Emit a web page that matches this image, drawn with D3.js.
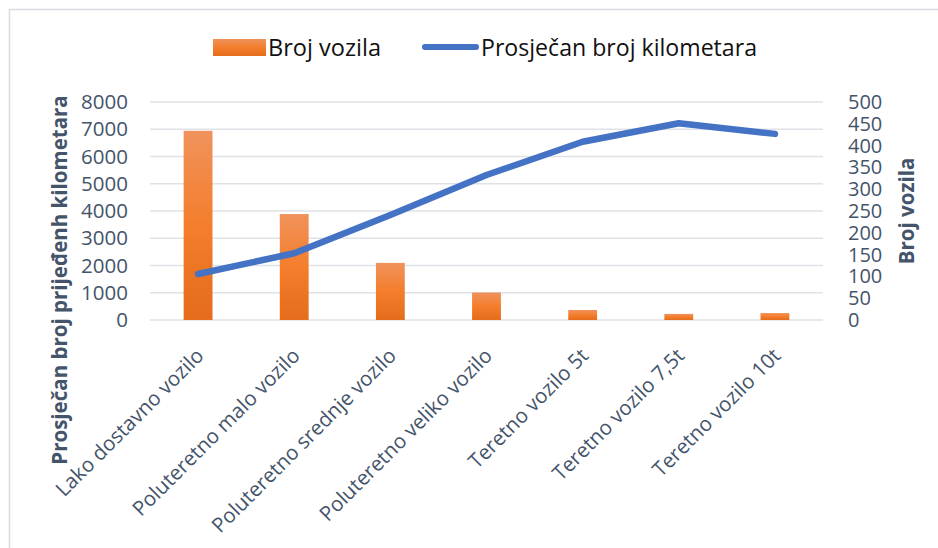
<!DOCTYPE html>
<html>
<head>
<meta charset="utf-8">
<script src="https://cdn.jsdelivr.net/npm/d3@7"></script>
<style>
  body { margin: 0; background: #fff; }
  text { font-family: "Open Sans", sans-serif; }
</style>
</head>
<body>
<div id="chart"></div>
<script>
// categories and values
var categories = ["Lako dostavno vozilo", "Poluteretno malo vozilo", "Poluteretno srednje vozilo",
    "Poluteretno veliko vozilo", "Teretno vozilo 5t", "Teretno vozilo 7,5t", "Teretno vozilo 10t"];
var brojVozila = [434, 243, 131, 63, 23, 14, 16];
var prosjecniKm = [1690, 2450, 3850, 5320, 6540, 7220, 6830];
var leftTicks = [0, 1000, 2000, 3000, 4000, 5000, 6000, 7000, 8000];
var rightTicks = [0, 50, 100, 150, 200, 250, 300, 350, 400, 450, 500];

var svgWidth = 938, svgHeight = 548;
var margin = { left: 150, top: 102, right: 115, bottom: 228 };
var chartWidth = svgWidth - margin.left - margin.right;
var chartHeight = svgHeight - margin.top - margin.bottom;

var textColor = "#44546a";

var svg = d3.select("#chart").append("svg")
    .attr("width", svgWidth)
    .attr("height", svgHeight);

// chart border
svg.append("rect")
    .attr("x", 9.5).attr("y", 9.5)
    .attr("width", 940).attr("height", 560)
    .attr("fill", "none")
    .attr("stroke", "#d9dce1")
    .attr("stroke-width", 1.5);

// bar gradient
var grad = svg.append("defs").append("linearGradient")
    .attr("id", "barGrad").attr("x1", 0).attr("y1", 0).attr("x2", 0).attr("y2", 1);
grad.append("stop").attr("offset", "0%").attr("stop-color", "#f0925c");
grad.append("stop").attr("offset", "50%").attr("stop-color", "#f47e2c");
grad.append("stop").attr("offset", "100%").attr("stop-color", "#e46c1b");

var chartGroup = svg.append("g")
    .attr("transform", `translate(${margin.left}, ${margin.top})`);

var xScale = d3.scaleBand()
    .domain(categories)
    .range([0, chartWidth])
    .padding(0);

var kmScale = d3.scaleLinear().domain([0, 8000]).range([chartHeight, 0]);
var countScale = d3.scaleLinear().domain([0, 500]).range([chartHeight, 0]);

// gridlines
chartGroup.append("g")
    .selectAll("line")
    .data(leftTicks)
    .enter()
    .append("line")
    .attr("x1", 0).attr("x2", chartWidth)
    .attr("y1", d => kmScale(d)).attr("y2", d => kmScale(d))
    .attr("stroke", "#dfe2e7")
    .attr("stroke-width", 1.5);

// left axis
var yAxisLeft = d3.axisLeft(kmScale).tickValues(leftTicks).tickFormat(d3.format("d"))
    .tickSize(0).tickPadding(22);
chartGroup.append("g")
    .call(yAxisLeft)
    .call(g => g.select(".domain").remove())
    .selectAll("text")
    .attr("font-family", "'Open Sans', sans-serif")
    .attr("font-size", "20.5px")
    .attr("fill", textColor);

// right axis
var yAxisRight = d3.axisRight(countScale).tickValues(rightTicks).tickFormat(d3.format("d"))
    .tickSize(0).tickPadding(25);
chartGroup.append("g")
    .attr("transform", `translate(${chartWidth}, 0)`)
    .call(yAxisRight)
    .call(g => g.select(".domain").remove())
    .selectAll("text")
    .attr("font-family", "'Open Sans', sans-serif")
    .attr("font-size", "20px")
    .attr("fill", textColor);

// bars
var barWidth = xScale.bandwidth() * 0.3;
chartGroup.selectAll(".bar")
    .data(brojVozila)
    .enter()
    .append("rect")
    .attr("class", "bar")
    .attr("x", (d, i) => xScale(categories[i]) + xScale.bandwidth() / 2 - barWidth / 2)
    .attr("y", d => countScale(d))
    .attr("width", barWidth)
    .attr("height", d => chartHeight - countScale(d))
    .attr("fill", "url(#barGrad)");

// line
var line = d3.line()
    .x((d, i) => xScale(categories[i]) + xScale.bandwidth() / 2)
    .y(d => kmScale(d));

chartGroup.append("path")
    .datum(prosjecniKm)
    .attr("d", line)
    .attr("fill", "none")
    .attr("stroke", "#4472c4")
    .attr("stroke-width", 6.5)
    .attr("stroke-linecap", "round")
    .attr("stroke-linejoin", "round");

// category labels
chartGroup.selectAll(".cat")
    .data(categories)
    .enter()
    .append("text")
    .attr("class", "cat")
    .attr("text-anchor", "end")
    .attr("transform", d => `translate(${xScale(d) + xScale.bandwidth() / 2 + 7}, ${chartHeight + 37}) rotate(-45)`)
    .attr("font-size", "20.5px")
    .attr("fill", textColor)
    .text(d => d);

// axis titles
svg.append("text")
    .attr("transform", "translate(67, 280) rotate(-90)")
    .attr("text-anchor", "middle")
    .attr("font-size", "20.5px")
    .attr("font-weight", "bold")
    .attr("fill", textColor)
    .text("Prosječan broj prijeđenh kilometara");

svg.append("text")
    .attr("transform", `translate(914, 211) rotate(-90)`)
    .attr("text-anchor", "middle")
    .attr("font-size", "20.5px")
    .attr("font-weight", "bold")
    .attr("fill", textColor)
    .text("Broj vozila");

// legend
var legend = svg.append("g");
legend.append("rect")
    .attr("x", 213).attr("y", 39)
    .attr("width", 53).attr("height", 17)
    .attr("fill", "url(#barGrad)");
legend.append("text")
    .attr("x", 268).attr("y", 56)
    .attr("font-family", "Lato, sans-serif")
    .attr("font-size", "23px")
    .attr("textLength", 113)
    .attr("lengthAdjust", "spacingAndGlyphs")
    .attr("fill", "#111")
    .text("Broj vozila");
legend.append("line")
    .attr("x1", 425).attr("x2", 476)
    .attr("y1", 47).attr("y2", 47)
    .attr("stroke", "#4472c4")
    .attr("stroke-width", 6)
    .attr("stroke-linecap", "round");
legend.append("text")
    .attr("x", 481).attr("y", 56)
    .attr("font-family", "Lato, sans-serif")
    .attr("font-size", "23px")
    .attr("textLength", 276)
    .attr("lengthAdjust", "spacingAndGlyphs")
    .attr("fill", "#111")
    .text("Prosječan broj kilometara");
</script>
</body>
</html>
